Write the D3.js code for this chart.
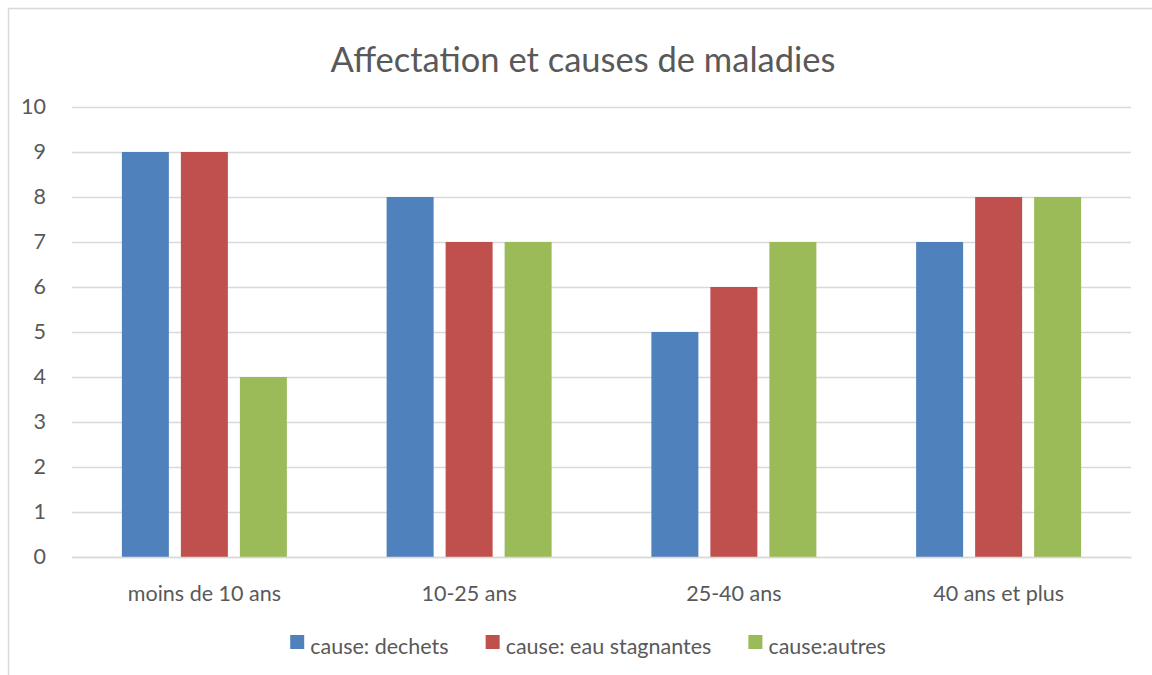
<!DOCTYPE html>
<html lang="fr">

<head>
  <meta charset="utf-8">
  <title>Affectation et causes de maladies</title>
  <script src="https://d3js.org/d3.v7.min.js" charset="utf-8"></script>
  <style type="text/css">
    body {
      margin: 0;
      background: #fff;
    }

    text {
      font-family: Lato, "Open Sans", sans-serif;
      fill: #595959;
    }

    .grid line {
      stroke: #d9d9d9;
      stroke-width: 1.5;
    }
  </style>
</head>

<body>
  <script type="text/javascript">
    var categories = ["moins de 10 ans", "10-25 ans", "25-40 ans", "40 ans et plus"];
    var seriesNames = ["cause: dechets", "cause: eau stagnantes", "cause:autres"];
    var dechets = [9, 8, 5, 7];
    var eauStagnantes = [9, 7, 6, 8];
    var autres = [4, 7, 7, 8];
    var yTicks = [0, 1, 2, 3, 4, 5, 6, 7, 8, 9, 10];
    var colors = ["#4F81BD", "#C0504D", "#9BBB59"];

    var W = 1152, H = 675;
    var margin = { top: 107, right: 21, bottom: 118, left: 72 },
      width = W - margin.left - margin.right,
      height = H - margin.top - margin.bottom,
      fontSize = 21.5;

    var seriesValues = [dechets, eauStagnantes, autres];
    var data = categories.map(function (c, i) {
      return {
        cat: c,
        vals: seriesNames.map(function (s, j) {
          return { name: s, value: seriesValues[j][i], color: colors[j] };
        })
      };
    });

    var root = d3.select("body").append("svg")
      .attr("width", W)
      .attr("height", H);

    // chart frame
    root.append("rect")
      .attr("x", 8.5).attr("y", 8.5)
      .attr("width", W + 20).attr("height", H + 20)
      .attr("fill", "none")
      .attr("stroke", "#d9d9d9")
      .attr("stroke-width", 1.5);

    root.append("text")
      .attr("x", 583)
      .attr("y", 72)
      .attr("text-anchor", "middle")
      .attr("font-size", "34.5px")
      .text("Affectation et causes de maladies");

    var svg = root.append("g")
      .attr("transform", "translate(" + margin.left + "," + margin.top + ")");

    var x0 = d3.scaleBand()
      .domain(categories)
      .range([0, width]);

    var groupW = 165;
    var x1 = d3.scaleBand()
      .domain(seriesNames)
      .range([0, groupW])
      .paddingInner(0.2034);

    var y = d3.scaleLinear()
      .domain([0, 10])
      .range([height, 0]);

    // gridlines
    svg.append("g")
      .attr("class", "grid")
      .call(d3.axisLeft(y).tickValues(yTicks).tickSize(-width).tickFormat(""))
      .call(function (g) { g.select(".domain").remove(); });

    // y labels
    svg.append("g")
      .call(d3.axisLeft(y).tickValues(yTicks).tickSize(0).tickPadding(26))
      .call(function (g) {
        g.select(".domain").remove();
        g.selectAll("text")
          .attr("font-size", fontSize + "px")
          .attr("fill", "#595959")
          .style("font-family", "Lato, 'Open Sans', sans-serif");
      });

    var groups = svg.selectAll(".group")
      .data(data)
      .enter()
      .append("g")
      .attr("class", "group")
      .attr("transform", function (d) {
        return "translate(" + (x0(d.cat) + (x0.bandwidth() - groupW) / 2) + ",0)";
      });

    groups.selectAll("rect")
      .data(function (d) { return d.vals; })
      .enter()
      .append("rect")
      .attr("x", function (d) { return x1(d.name); })
      .attr("y", function (d) { return y(d.value); })
      .attr("width", x1.bandwidth())
      .attr("height", function (d) { return height - y(d.value); })
      .attr("fill", function (d) { return d.color; });

    // x axis
    svg.append("g")
      .attr("transform", "translate(0," + height + ")")
      .call(d3.axisBottom(x0).tickSize(0).tickPadding(29))
      .call(function (g) {
        g.select(".domain").attr("stroke", "#d9d9d9").attr("stroke-width", 1.5);
        g.selectAll("text")
          .attr("font-size", fontSize + "px")
          .attr("fill", "#595959")
          .style("font-family", "Lato, 'Open Sans', sans-serif");
      });

    // legend
    var legend = root.append("g");
    var lx = 0;
    seriesNames.forEach(function (s, i) {
      var item = legend.append("g").attr("transform", "translate(" + lx + ",0)");
      item.append("rect")
        .attr("x", 0).attr("y", -11)
        .attr("width", 14).attr("height", 14)
        .attr("fill", colors[i]);
      var t = item.append("text")
        .attr("x", 20)
        .attr("y", 0)
        .attr("dy", "0.35em")
        .attr("font-size", fontSize + "px")
        .text(s);
      lx += 20 + t.node().getComputedTextLength() + 37;
    });
    lx -= 37;
    legend.attr("transform", "translate(" + (588 - lx / 2) + ",646)");
  </script>
</body>

</html>
